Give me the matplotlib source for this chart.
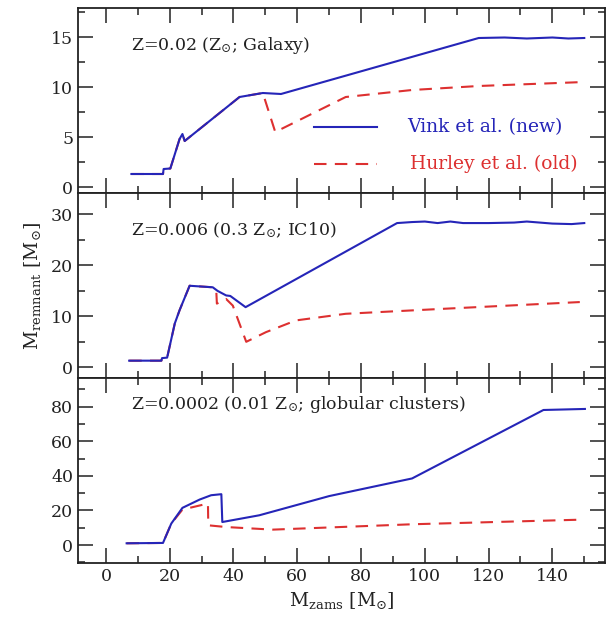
import matplotlib
matplotlib.use("Agg")
import matplotlib.pyplot as plt
from matplotlib.ticker import MultipleLocator

plt.rcParams['font.family'] = ['DejaVu Serif']
plt.rcParams['mathtext.fontset'] = 'dejavuserif'

BLUE = '#2525b8'
RED = '#dd3030'

# Panel 1: Z=0.02
p1_blue_m = [8, 17.9, 18.1, 20.2, 23.1, 24.0, 24.7, 41.9, 49.2, 54.9, 116.9, 125, 132, 140, 145, 150]
p1_blue_r = [1.3, 1.3, 1.8, 1.85, 4.8, 5.3, 4.6, 9.0, 9.4, 9.3, 14.9, 14.95, 14.85, 14.95, 14.85, 14.9]
p1_red_m = [8, 17.9, 18.1, 20.2, 23.1, 24.0, 24.7, 41.9, 49.2, 53.1, 75.2, 96, 116.9, 150]
p1_red_r = [1.3, 1.3, 1.8, 1.85, 4.8, 5.3, 4.6, 9.0, 9.4, 5.5, 9.0, 9.7, 10.1, 10.5]

# Panel 2: Z=0.006
p2_blue_m = [7.3, 17.4, 17.6, 19.2, 21.6, 23.1, 26.25, 33.5, 35, 37.7, 39, 43.8, 91.3, 96, 100, 104, 108, 112, 120, 128, 132, 140, 146, 150]
p2_blue_r = [1.3, 1.3, 1.8, 1.9, 8.6, 11.2, 16.0, 15.7, 15.0, 14.1, 14.0, 11.8, 28.3, 28.5, 28.6, 28.3, 28.6, 28.3, 28.3, 28.4, 28.6, 28.2, 28.1, 28.3]
p2_red_m = [7.3, 17.4, 17.6, 19.2, 21.6, 23.1, 26.25, 33.5, 34.6, 34.8, 37.7, 39.8, 44.0, 50.2, 59.6, 75.2, 106.5, 148.6]
p2_red_r = [1.3, 1.3, 1.8, 1.9, 8.6, 11.2, 16.0, 15.7, 15.1, 12.5, 13.4, 12.1, 5.0, 6.9, 9.2, 10.5, 11.5, 12.8]

# Panel 3: Z=0.0002
p3_blue_m = [6.5, 17.9, 20.5, 24.0, 29.4, 33.0, 36.2, 36.5, 48.1, 70, 96, 137.2, 150.2]
p3_blue_r = [1.0, 1.2, 12.4, 21.5, 26.3, 28.8, 29.4, 13.3, 17.2, 28.3, 38.5, 78.1, 78.7]
p3_red_m = [6.5, 17.9, 20.5, 24.0, 32.0, 32.1, 37.7, 52.3, 96, 149.7]
p3_red_r = [1.0, 1.2, 12.4, 20.5, 24.0, 11.4, 10.4, 8.9, 12.0, 14.7]

labels = ["Z=0.02 (Z$_{\\odot}$; Galaxy)",
          "Z=0.006 (0.3 Z$_{\\odot}$; IC10)",
          "Z=0.0002 (0.01 Z$_{\\odot}$; globular clusters)"]

panels = [
    (p1_blue_m, p1_blue_r, p1_red_m, p1_red_r, (-0.6, 17.9), 5, 2.5, 14.2),
    (p2_blue_m, p2_blue_r, p2_red_m, p2_red_r, (-2.1, 34.2), 10, 5, 26.8),
    (p3_blue_m, p3_blue_r, p3_red_m, p3_red_r, (-10.4, 96.6), 20, 10, 81),
]

fig = plt.figure(figsize=(6.07, 6.18), dpi=100)
left, right, top, bottom = 78/607, 605/607, 1 - 8/618, 1 - 563/618
h = (top - bottom) / 3
axes = []
for i in range(3):
    ax = fig.add_axes([left, top - (i + 1) * h, right - left, h])
    axes.append(ax)

for i, (ax, (bm, br, rm, rr, ylim, maj, mnr, ly)) in enumerate(zip(axes, panels)):
    ax.plot(rm, rr, color=RED, lw=1.5, dashes=(6, 4), zorder=2)
    ax.plot(bm, br, color=BLUE, lw=1.5, zorder=3)
    ax.set_xlim(-8.75, 156.5)
    ax.set_ylim(*ylim)
    ax.xaxis.set_major_locator(MultipleLocator(20))
    ax.xaxis.set_minor_locator(MultipleLocator(10))
    ax.yaxis.set_major_locator(MultipleLocator(maj))
    ax.yaxis.set_minor_locator(MultipleLocator(mnr))
    ax.tick_params(which='both', direction='in', top=True, right=True,
                   labelsize=12.5, width=1.1, colors='#222222')
    ax.tick_params(which='major', length=11)
    ax.tick_params(which='minor', length=5)
    for s in ax.spines.values():
        s.set_linewidth(1.3)
        s.set_color('#222222')
    if i < 2:
        ax.tick_params(labelbottom=False)
    ax.text(8, ly, labels[i], fontsize=12.5, va='center', ha='left', color='#222222')

# legend in top panel
ax = axes[0]
ax.plot([65.3, 85], [5.97, 5.97], color=BLUE, lw=1.5)
ax.plot([65.3, 85], [2.28, 2.28], color=RED, lw=1.5, dashes=(6, 4))
ax.text(94.4, 5.97, "Vink et al. (new)", color=BLUE, fontsize=13.5, va='center', ha='left')
ax.text(95.5, 2.28, "Hurley et al. (old)", color=RED, fontsize=13.5, va='center', ha='left')

axes[1].set_ylabel("M$_{\\mathrm{remnant}}$ [M$_{\\odot}$]", fontsize=13.5, labelpad=6, color='#222222')
axes[2].set_xlabel("M$_{\\mathrm{zams}}$ [M$_{\\odot}$]", fontsize=13.5, labelpad=4, color='#222222')

fig.savefig("out.png", dpi=100)
